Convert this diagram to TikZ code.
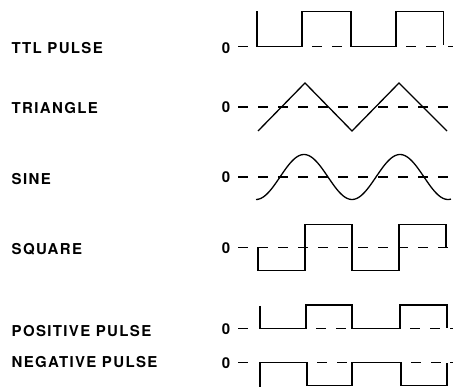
\documentclass[tikz,border=0pt]{standalone}
\usepackage{fontspec}
\newfontfamily\wavefont{TeX Gyre Heros}[LetterSpace=9]
\usepackage{tikz}
\usetikzlibrary{positioning}
\tikzset{
      signame/.style={
        anchor=west,
        inner sep=0pt,
        font=\wavefont\bfseries\fontsize{15}{17}\selectfont
      },
      zerolbl/.style={
        inner sep=0pt,
        font=\wavefont\bfseries\fontsize{15}{17}\selectfont
      },
      wave/.style={
        line width=1.3pt,
        line join=miter
      },
      zeroline/.style={
        line width=1.1pt,
        dash pattern=on 10pt off 10pt
      },
      zeroseg/.style={
        line width=1.1pt,
        dash pattern=on 10pt off 10pt,
        dash phase=10pt
      },
    }
\begin{document}
\begin{tikzpicture}[x=1pt,y=-1pt]
          \useasboundingbox (0,0) rectangle (453,387);

          % names of the signals
          \node[signame] (ttl) at (11.5,48.5) {TTL PULSE};
          \node[signame] (triangle) at (11.5,108.3) {TRIANGLE};
          \node[signame] (sine) at (11.5,179.5) {SINE};
          \node[signame] (square) at (11.5,249.3) {SQUARE};
          \node[signame] (pospulse) at (11.5,331.5) {POSITIVE PULSE};
          \node[signame] (negpulse) at (11.5,361.7) {NEGATIVE PULSE};

          % zero levels
          \node[zerolbl] (ttlzero) at (226,48) {0};
          \node[zerolbl] (trizero) at (226,107.5) {0};
          \node[zerolbl] (sinezero) at (226,177.5) {0};
          \node[zerolbl] (sqzero) at (226,248.3) {0};
          \node[zerolbl] (poszero) at (226,329) {0};
          \node[zerolbl] (negzero) at (226,363.3) {0};

          % TTL pulse
          \draw[zeroline] (238,46.7) -- (248,46.7);
          \draw[zeroseg] (302,46.7) -- (351,46.7) (396,46.7) -- (443.5,46.7);
          \draw[zeroline] (448,46.7) -- (453,46.7);
          \draw[wave] (257,11.5) |- (302,46.7) |- (351,11.5) |- (396,46.7)
            |- (443.5,11.5) -- (443.5,45);

          % triangle
          \draw[zeroline] (238,107) -- (453,107);
          \draw[wave] (258,131) -- (305,83) -- (352,131) -- (399,83) -- (447,131);

          % sine
          \draw[zeroline] (238,177) -- (453,177);
          \draw[wave] plot[domain=256:451, samples=120, smooth]
            (\x, {177+22.5*cos(3.75*(\x-256))});

          % square
          \draw[zeroline] (238,247.5) -- (453,247.5);
          \draw[wave] (258,247.5) |- (305,270.5) |- (352,224.5) |- (399,270.5)
            |- (446,224.5) -- (446,247.5);

          % positive pulse
          \draw[zeroline] (238,328.3) -- (248,328.3);
          \draw[zeroseg] (306,328.3) -- (352,328.3) (400,328.3) -- (447,328.3);
          \draw[zeroline] (450,328.3) -- (453,328.3);
          \draw[wave] (260,306) |- (306,328.3) |- (352,305) |- (400,328.3)
            |- (447,305) -- (447,328.3);

          % negative pulse
          \draw[zeroline] (238,362.7) -- (248,362.7);
          \draw[zeroseg] (307,362.7) -- (352,362.7) (401,362.7) -- (447,362.7);
          \draw[zeroline] (450,362.7) -- (453,362.7);
          \draw[wave] (260,387) |- (307,362.7) |- (352,385.8) |- (401,362.7)
            |- (447,385.8) -- (447,362.7);
\end{tikzpicture}
\end{document}
